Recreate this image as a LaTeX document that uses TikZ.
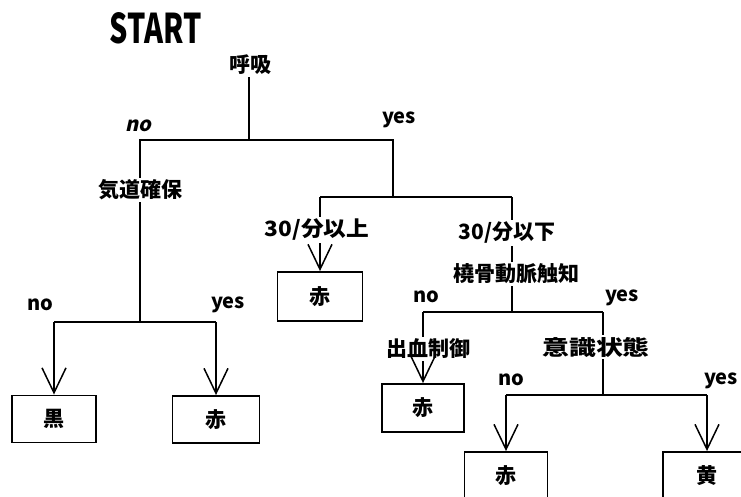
\documentclass[tikz,border=0pt]{standalone}
\usepackage{fontspec}
\usepackage{graphicx}
\setmainfont{Noto Sans CJK JP}
\newfontfamily\slfont{Noto Sans CJK JP}[FakeSlant=0.22]
\usetikzlibrary{arrows.meta}
\tikzset{
  every node/.style={font=\fontsize{21pt}{25pt}\selectfont\bfseries, inner sep=2pt},
  lab/.style={font=\fontsize{20pt}{24pt}\selectfont\bfseries, inner sep=0pt},
  wire/.style={line width=1.9pt},
  arr/.style={wire, -{Straight Barb[length=25pt,width=24pt,line width=1.5pt]}},
  box/.style={draw, line width=1.9pt, minimum width=#1, minimum height=47pt, inner sep=0pt},
}
\begin{document}
\begin{tikzpicture}[x=1pt,y=-1pt]
\clip (0,0) rectangle (741,496);
% texts
\node (start) at (156,28) {\resizebox{92pt}{31pt}{START}};
\node (breath) at (250,65) {呼吸};
\node[lab, font=\fontsize{20pt}{24pt}\slfont\bfseries] (no1) at (138,126) {no};
\node[lab] (yes1) at (399,120) {yes};
\node (kido) at (140,190) {気道確保};
\node[lab] (no2) at (40,305) {no};
\node[lab] (yes2) at (228,305) {yes};
\node (ge30) at (317,230) {\scalebox{1.08}[1]{30/分以上}};
\node (le30) at (507,233) {30/分以下};
\node (radial) at (516,274) {橈骨動脈触知};
\node[lab] (no4) at (426,297) {no};
\node[lab] (yes4) at (622,298) {yes};
\node (bleed) at (428,349) {出血制御};
\node (cons) at (596,347) {\scalebox{1.28}[1]{意識状態}};
\node[lab] (no5) at (511,380) {no};
\node[lab] (yes5) at (721,381) {yes};
% boxes
\node[box=84pt] (black) at (54,419) {黒};
\node[box=87pt] (red1) at (216,419.5) {赤};
\node[box=85pt, minimum height=49pt] (red2) at (320,296.5) {赤};
\node[box=82pt, minimum height=48pt] (red3) at (423,408) {赤};
\node[box=83pt] (red4) at (506,475.5) {赤};
\node[box=88pt] (yellow) at (707,475.5) {黄};
% junctions
\coordinate (j1) at (249,140);
\coordinate (r1) at (393,140);
\coordinate (l3) at (320,197);
\coordinate (r3) at (512,197);
\coordinate (j3) at (140,322);
\coordinate (l2) at (54,322);
\coordinate (r2) at (216,322);
\coordinate (j4) at (512,312);
\coordinate (l4) at (423,312);
\coordinate (r4) at (603,312);
\coordinate (j5) at (603,395);
\coordinate (l5) at (506,395);
\coordinate (r5) at (707,395);
% connectors
\draw[wire] (breath.south -| j1) -- (j1);
\draw[wire] (kido.north) |- (r1) -- (r1 |- l3);
\draw[wire] (kido.south) -- (j3);
\draw[wire] (l2) -- (r2);
\draw[arr] (l2) -- (black.north);
\draw[arr] (r2) -- (red1.north);
\draw[wire] (l3) -- (r3);
\draw[wire] (l3) -- (l3 |- ge30.north);
\draw[arr] (l3 |- ge30.south) -- (red2.north);
\draw[wire] (r3) -- (r3 |- le30.north);
\draw[wire] (r3 |- le30.south) -- (r3 |- radial.north);
\draw[wire] (r3 |- radial.south) -- (j4);
\draw[wire] (l4) -- (r4);
\draw[wire] (l4) -- (l4 |- bleed.north);
\draw[arr] (l4 |- bleed.south) -- (red3.north);
\draw[wire] (r4) -- (r4 |- cons.north);
\draw[wire] (r4 |- cons.south) -- (j5);
\draw[wire] (l5) -- (r5);
\draw[arr] (l5) -- (red4.north);
\draw[arr] (r5) -- (yellow.north);
\end{tikzpicture}
\end{document}
